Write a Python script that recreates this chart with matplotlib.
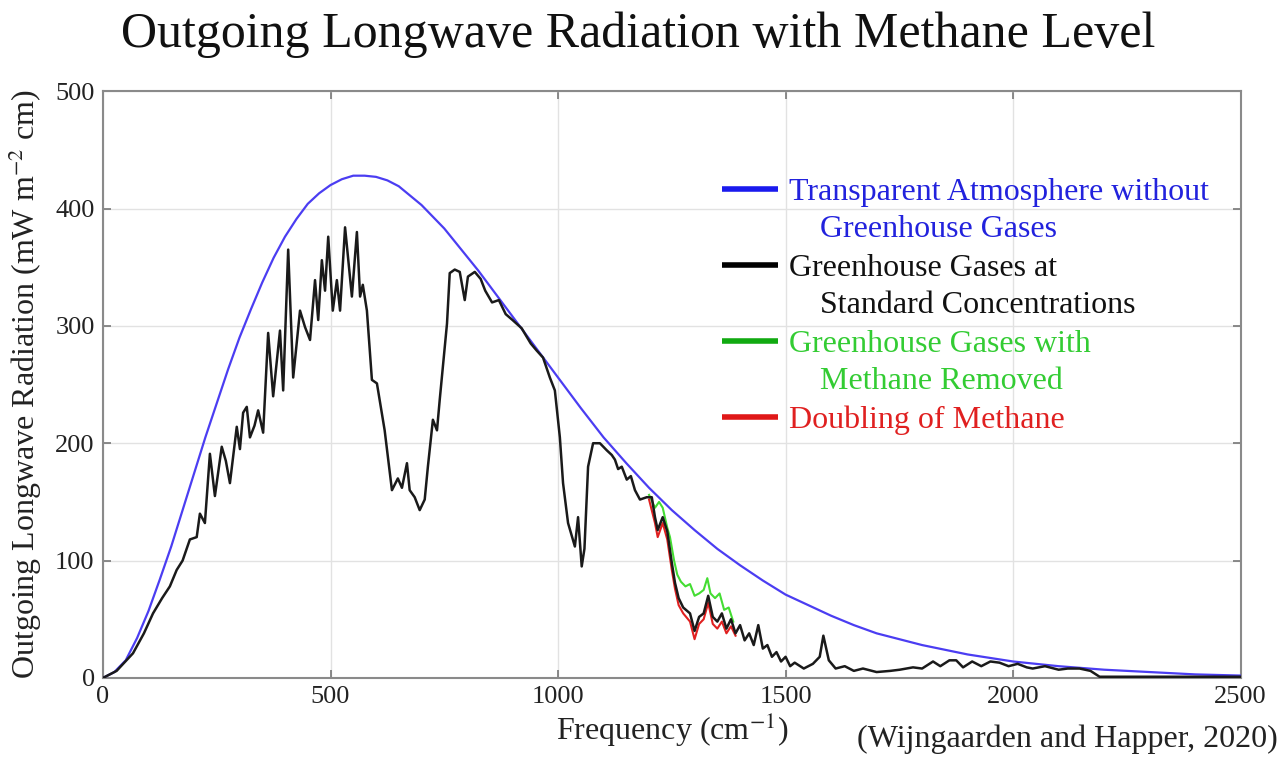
import matplotlib.pyplot as plt
import numpy as np

plt.rcParams['font.family'] = ['Liberation Serif', 'DejaVu Serif']
plt.rcParams['mathtext.fontset'] = 'stix'

# Transparent atmosphere (no greenhouse gases)
blue_x = [0, 25, 50, 75, 100, 125, 150, 175, 200, 225, 250, 275, 300, 325, 350,
          375, 400, 425, 450, 475, 500, 525, 550, 575, 600, 625, 650, 675, 700,
          725, 750, 775, 800, 825, 850, 875, 900, 925, 950, 975, 1000, 1050, 1100,
          1150, 1200, 1250, 1300, 1350, 1400, 1450, 1500, 1550, 1600, 1650, 1700,
          1750, 1800, 1850, 1900, 1950, 2000, 2050, 2100, 2150, 2200, 2250, 2300,
          2350, 2400, 2450, 2500]
blue_y = [0, 5, 15, 34, 57, 84, 112, 143, 174, 205, 234, 263, 290, 314, 337,
          358, 376, 391, 404, 413, 420, 425, 428, 428, 427, 424, 419, 411, 403,
          393, 383, 371, 359, 347, 334, 321, 308, 295, 282, 269, 256, 230, 205,
          183, 162, 143, 126, 110, 96, 83, 71, 62, 53, 45, 38,
          33, 28, 24, 20, 17, 14, 12, 10, 8.5, 7, 6, 5,
          4, 3, 2.5, 2]

# Greenhouse gases at standard concentrations
black_x = [0, 30, 66, 90, 110, 130, 147, 162, 175, 191, 206, 213, 224, 235, 246,
           261, 270, 279, 294, 301, 308, 316, 323, 333, 341, 352, 363, 374, 389,
           396, 407, 418, 433, 444, 455, 466, 473, 481, 488, 495, 505, 514, 521,
           532, 547, 558, 565, 571, 580, 591, 602, 619, 635, 648, 657, 668, 674,
           685, 696, 707, 714, 725, 734, 740, 756, 762, 773, 784, 795, 802, 817,
           830, 840, 855, 870, 885, 900, 920, 940, 953, 967, 982, 993, 1004, 1011,
           1022, 1037, 1044, 1052, 1058, 1066, 1077, 1092, 1107, 1118, 1125, 1132,
           1140, 1151, 1160, 1169, 1180, 1195, 1206, 1213, 1219, 1230, 1240, 1250,
           1257, 1265, 1275, 1290, 1300, 1310, 1320, 1330, 1340, 1350, 1360, 1370,
           1380, 1390, 1400, 1410, 1420, 1430, 1440, 1450, 1460, 1470, 1480, 1490,
           1500, 1510, 1520, 1540, 1560, 1575, 1583, 1595, 1610, 1630, 1650, 1670,
           1700, 1730, 1751, 1780, 1800, 1824, 1840, 1860, 1875, 1890, 1910, 1930,
           1950, 1970, 1990, 2010, 2030, 2043, 2070, 2100, 2120, 2146, 2170, 2190,
           2250, 2300, 2400, 2500]
black_y = [0, 6, 21, 38, 55, 68, 78, 92, 100, 118, 120, 140, 132, 191, 155,
           197, 185, 166, 214, 195, 226, 231, 205, 215, 228, 209, 294, 240, 296,
           245, 365, 256, 313, 299, 288, 339, 305, 356, 330, 376, 313, 339, 313,
           384, 325, 380, 325, 335, 313, 254, 251, 211, 160, 170, 162, 183, 160,
           154, 143, 152, 180, 220, 211, 237, 302, 345, 348, 346, 322, 342, 346,
           340, 330, 320, 322, 310, 305, 298, 285, 279, 273, 256, 245, 205, 166,
           132, 112, 137, 95, 110, 180, 200, 200, 194, 190, 186, 178,
           180, 169, 172, 160, 152, 154, 154, 137, 126, 137, 125, 98,
           81, 68, 60, 55, 40, 52, 55, 70, 52, 48, 55, 42,
           50, 38, 45, 32, 38, 28, 45, 25, 28, 18, 22, 14,
           18, 10, 13, 8, 12, 18, 36, 15, 8, 10, 6, 8,
           5, 6, 7, 9, 8, 14, 10, 15, 15, 9, 14, 10,
           14, 13, 10, 12, 9, 8, 10, 7, 8, 8, 6, 1,
           1, 1, 1, 1]

# Methane removed
green_x = [1200, 1213, 1222, 1230, 1240, 1246, 1255, 1262, 1270, 1280, 1290, 1300,
           1310, 1320, 1328, 1335, 1345, 1355, 1365, 1375, 1385]
green_y = [156, 145, 150, 145, 128, 120, 100, 88, 82, 78, 80, 70,
           72, 75, 85, 72, 68, 72, 58, 60, 48]

# Doubling of methane
red_x = [1200, 1213, 1219, 1230, 1240, 1250, 1257, 1265, 1275, 1290, 1300, 1310,
         1320, 1330, 1340, 1350, 1360, 1370, 1380, 1390]
red_y = [152, 132, 120, 132, 118, 92, 76, 62, 55, 48, 33, 46,
         50, 64, 46, 42, 48, 38, 44, 36]

fig = plt.figure(figsize=(12.87, 7.6), dpi=100)
ax = fig.add_axes([0.080, 0.108, 0.884, 0.772])

ax.plot(blue_x, blue_y, color='#4b3df2', lw=1.6, zorder=3)
ax.plot(green_x, green_y, color='#44dd33', lw=1.5, zorder=3)
ax.plot(red_x, red_y, color='#e02020', lw=1.5, zorder=3)
ax.plot(black_x, black_y, color='#1a1a1a', lw=1.8, zorder=4)

ax.set_xlim(0, 2500)
ax.set_ylim(0, 500)
ax.set_xticks(np.arange(0, 2501, 500))
ax.set_yticks(np.arange(0, 501, 100))
ax.grid(True, color='#e2e2e2', lw=1.0, zorder=0)
ax.tick_params(direction='in', length=6, width=1.2, color='#777777',
               top=True, right=True, labelsize=19, labelcolor='#222222', pad=6)
for s in ax.spines.values():
    s.set_color('#8a8a8a')
    s.set_linewidth(1.5)

ax.set_xlabel(r'Frequency (cm$^{-1}$)', fontsize=23, color='#222222', labelpad=2)
ax.set_ylabel(r'Outgoing Longwave Radiation (mW m$^{-2}$ cm)', fontsize=23,
              color='#222222', labelpad=8)
fig.suptitle('Outgoing Longwave Radiation with Methane Level', fontsize=36,
             x=0.496, y=0.985, color='#111111')
fig.text(0.993, 0.008, '(Wijngaarden and Happer, 2020)', fontsize=23,
         ha='right', va='bottom', color='#222222')

# legend drawn by hand (two-line labels with indented second line)
leg_lines = [['Transparent Atmosphere without', 'Greenhouse Gases'],
             ['Greenhouse Gases at', 'Standard Concentrations'],
             ['Greenhouse Gases with', 'Methane Removed'],
             ['Doubling of Methane']]
leg_line_colors = ['#1a1aee', '#000000', '#11aa11', '#e01818']
leg_text_colors = ['#2222dd', '#111111', '#33cc33', '#e02020']
y0 = 0.833
for i, lines in enumerate(leg_lines):
    y = y0 - i * 0.1295
    ax.plot([0.544, 0.593], [y, y], transform=ax.transAxes,
            color=leg_line_colors[i], lw=4, solid_capstyle='butt', zorder=5)
    ax.text(0.603, y, lines[0], transform=ax.transAxes, fontsize=23,
            color=leg_text_colors[i], va='center_baseline', ha='left')
    if len(lines) > 1:
        ax.text(0.630, y - 0.063, lines[1], transform=ax.transAxes, fontsize=23,
                color=leg_text_colors[i], va='center_baseline', ha='left')

fig.savefig('out.png', dpi=100)
